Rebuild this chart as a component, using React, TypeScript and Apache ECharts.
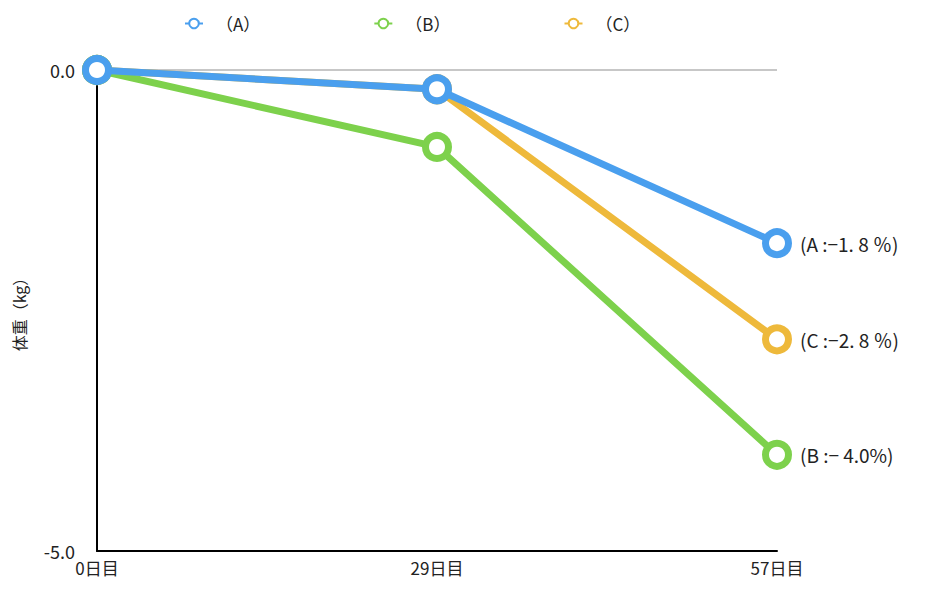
import React, { useEffect, useRef } from "react";
import * as echarts from "echarts";

const categories = ["0日目", "29日目", "57日目"];
const seriesNames = ["（A）", "（B）", "（C）"];
const valuesA = [0, -0.2, -1.8];
const valuesB = [0, -0.8, -4.0];
const valuesC = [0, -0.2, -2.8];
const endLabels = ["(A :−1. 8 ％)", "(B :− 4.0%)", "(C :−2. 8 ％)"];
const colors = ["#4A9FEE", "#7DD14C", "#EEB93B"];

export default function App() {
  const ref = useRef<HTMLDivElement>(null);
  useEffect(() => {
    if (!ref.current) return;
    const chart = echarts.init(ref.current, undefined, { renderer: "svg" });
    const data = [valuesA, valuesB, valuesC];
    const zs = [4, 3, 2];
    const font = "'Noto Sans CJK JP', sans-serif";
    chart.setOption({
      animation: false,
      textStyle: { fontFamily: font },
      legend: {
        top: 10,
        left: 179,
        itemGap: 113,
        itemWidth: 18,
        itemHeight: 12,
        textStyle: { fontSize: 17, color: "#222", fontFamily: font, padding: [0, 0, 0, 8] },
        data: seriesNames,
      },
      grid: { left: 97, right: 943 - 777, top: 70, bottom: 592 - 551, containLabel: false },
      xAxis: {
        type: "category",
        data: categories,
        boundaryGap: false,
        axisLine: { onZero: false, lineStyle: { color: "#000", width: 2 } },
        axisTick: { show: false },
        axisLabel: { fontSize: 17, color: "#222", margin: 8, fontFamily: "'Liberation Sans Narrow', 'Noto Sans CJK JP', sans-serif" },
      },
      yAxis: {
        type: "value",
        min: -5,
        max: 0,
        interval: 5,
        name: "体重（kg）",
        nameLocation: "middle",
        nameGap: 70,
        nameTextStyle: { fontSize: 16, color: "#222" },
        axisLine: { show: true, lineStyle: { color: "#000", width: 2 } },
        axisTick: { show: false },
        axisLabel: {
          fontSize: 18,
          color: "#222",
          margin: 22,
          formatter: (v: number) => v.toFixed(1),
        },
        splitLine: { show: true, lineStyle: { color: "#b4b4b4", width: 1.5 } },
      },
      series: data.map((d, i) => ({
        name: seriesNames[i],
        type: "line",
        data: d,
        z: zs[i],
        color: colors[i],
        lineStyle: { width: 7, color: colors[i] },
        symbol: "circle",
        symbolSize: 23,
        itemStyle: { color: "#fff", borderColor: colors[i], borderWidth: 7 },
        label: {
          show: true,
          position: "right",
          distance: 8,
          fontSize: 19,
          color: "#222",
          formatter: (p: any) => (p.dataIndex === d.length - 1 ? endLabels[i] : ""),
        },
      })),
    });
    return () => chart.dispose();
  }, []);
  return <div ref={ref} style={{ width: 943, height: 592, margin: -8 }} />;
}
